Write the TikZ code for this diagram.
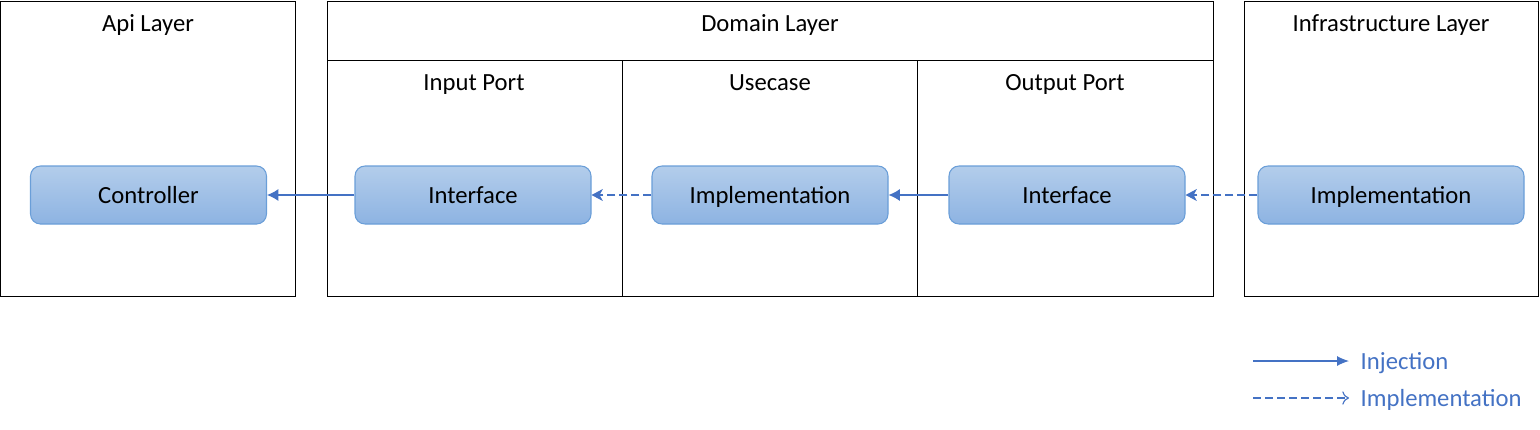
\documentclass[tikz,border=0pt]{standalone}
\usepackage{fontspec}
\setmainfont{Carlito}
\usetikzlibrary{arrows.meta}
\definecolor{arrowblue}{HTML}{4472C4}
\definecolor{boxtop}{HTML}{B3CDEB}
\definecolor{boxbot}{HTML}{8DB3E2}
\definecolor{boxline}{HTML}{6A9ED8}
\begin{document}
\begin{tikzpicture}[x=0.75pt,y=-0.75pt,
  every node/.style={font=\fontsize{18.5}{22}\selectfont,text height=15.5pt,text depth=3pt},
  layerbox/.style={draw=black,line width=0.75pt},
  title/.style={text=black},
  compbox/.style={draw=boxline,line width=0.8pt,rounded corners=7.5pt,top color=boxtop,bottom color=boxbot,minimum width=177pt,minimum height=43.5pt,inner sep=0pt,text=black},
  inj/.style={draw=arrowblue,line width=0.85pt,-{Latex[length=8.5pt,width=9pt]}},
  impl/.style={draw=arrowblue,line width=0.85pt,dash pattern=on 6pt off 3pt,-{Stealth[length=8.5pt,width=9pt,inset=2.5pt]}},
  legtext/.style={text=arrowblue,anchor=west}]
\useasboundingbox (0,0) rectangle (1540,429);
% layer frames
\draw[layerbox] (0.5,1) rectangle (295,296);
\draw[layerbox] (327,1) rectangle (1213,296);
\draw[layerbox] (327,60) -- (1213,60);
\draw[layerbox] (622,60) -- (622,296);
\draw[layerbox] (917,60) -- (917,296);
\draw[layerbox] (1244,1) rectangle (1538.5,296);
% titles
\node[title] (tapi) at (148,23) {Api Layer};
\node[title] (tdom) at (770,23) {Domain Layer};
\node[title] (tinf) at (1391,23) {Infrastructure Layer};
\node[title] (tin) at (474,82) {Input Port};
\node[title] (tuse) at (770,82) {Usecase};
\node[title] (tout) at (1065,82) {Output Port};
% components
\node[compbox] (ctrl) at (148.5,195) {Controller};
\node[compbox] (inif) at (473,195) {Interface};
\node[compbox] (uimpl) at (770,195) {Implementation};
\node[compbox] (outif) at (1067,195) {Interface};
\node[compbox,minimum width=199.5pt] (iimpl) at (1391,195) {Implementation};
% connectors
\draw[inj] (inif.west) -- (ctrl.east);
\draw[impl] (uimpl.west) -- (inif.east);
\draw[inj] (outif.west) -- (uimpl.east);
\draw[impl] (iimpl.west) -- (outif.east);
% legend
\coordinate (l1a) at (1253,361);
\coordinate (l1b) at (1349,361);
\coordinate (l2a) at (1253,398);
\coordinate (l2b) at (1349,398);
\draw[inj,-{Latex[length=9pt,width=7.5pt]}] (l1a) -- (l1b);
\draw[draw=arrowblue,line width=0.85pt,dash pattern=on 6pt off 3pt,-{To[length=5pt,width=10pt]}] (l2a) -- (l2b);
\node[legtext] (leg1) at (1356,361) {Injection};
\node[legtext] (leg2) at (1356,398) {Implementation};
\end{tikzpicture}
\end{document}
